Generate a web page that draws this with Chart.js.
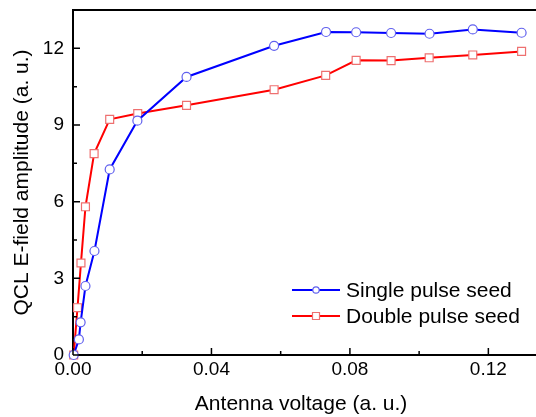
<!DOCTYPE html>
<html lang="en">
<script src="https://cdn.jsdelivr.net/npm/chart.js@4.4.1/dist/chart.umd.min.js"></script>
<head>
<meta charset="UTF-8" />
<title>QCL E-field amplitude</title>
<style>
	html, body { margin:0; padding:0; background:#FFFFFF; }
	#wrap { width:536px; height:417px; }
</style>
</head>
<body>
<div id="wrap"><canvas id="qcl_chart" width="536" height="417"></canvas></div>
<script>
	// data
	const singleX = [0.0002, 0.0017, 0.0022, 0.0036, 0.0062, 0.0106, 0.0186, 0.0328, 0.0581, 0.0731, 0.0818, 0.0919, 0.1030, 0.1155, 0.1296];
	const singleY = [0.0, 0.61, 1.28, 2.70, 4.07, 7.26, 9.17, 10.88, 12.10, 12.64, 12.63, 12.60, 12.57, 12.74, 12.61];
	const doubleX = [0.0002, 0.0013, 0.0023, 0.0036, 0.0061, 0.0106, 0.0187, 0.0328, 0.0581, 0.0730, 0.0818, 0.0919, 0.1029, 0.1155, 0.1296];
	const doubleY = [0.0, 1.85, 3.60, 5.80, 7.88, 9.22, 9.45, 9.77, 10.38, 10.94, 11.53, 11.52, 11.63, 11.74, 11.88];
	const xTicks = [0, 0.04, 0.08, 0.12];
	const xMinor = [0.02, 0.06, 0.10];
	const yTicks = [0, 3, 6, 9, 12];
	const yMinor = [1.5, 4.5, 7.5, 10.5];
	const seriesNames = ['Single pulse seed', 'Double pulse seed'];

	const FONT = 'Liberation Sans, Arial, sans-serif';

	function toPoints(xs, ys) {
		return xs.map((x, i) => ({x: x, y: ys[i]}));
	}

	// inward tick marks, frame lines running to the page edge, legend box
	const framePlugin = {
		id: 'frame',
		afterDatasetsDraw(chart) {
			const ctx = chart.ctx;
			const a = chart.chartArea;
			const xs = chart.scales.x, ys = chart.scales.y;
			ctx.save();
			ctx.strokeStyle = '#000000';
			ctx.lineWidth = 2;
			ctx.beginPath();
			ctx.moveTo(a.left - 1, a.top);
			ctx.lineTo(chart.width, a.top);
			ctx.moveTo(a.right - 1, a.bottom);
			ctx.lineTo(chart.width, a.bottom);
			ctx.stroke();
			ctx.lineWidth = 1.5;
			ctx.beginPath();
			xTicks.forEach(v => { const p = xs.getPixelForValue(v); ctx.moveTo(p, a.bottom); ctx.lineTo(p, a.bottom - 7); });
			xMinor.forEach(v => { const p = xs.getPixelForValue(v); ctx.moveTo(p, a.bottom); ctx.lineTo(p, a.bottom - 4); });
			yTicks.forEach(v => { const p = ys.getPixelForValue(v); ctx.moveTo(a.left, p); ctx.lineTo(a.left + 7, p); });
			yMinor.forEach(v => { const p = ys.getPixelForValue(v); ctx.moveTo(a.left, p); ctx.lineTo(a.left + 4, p); });
			ctx.stroke();

			// legend
			const rows = [290, 316];
			chart.data.datasets.forEach((ds, i) => {
				const y = rows[i];
				ctx.strokeStyle = ds.borderColor;
				ctx.lineWidth = 2;
				ctx.beginPath();
				ctx.moveTo(292, y);
				ctx.lineTo(340, y);
				ctx.stroke();
				ctx.fillStyle = '#FFFFFF';
				ctx.strokeStyle = ds.pointBorderColor;
				ctx.lineWidth = 1.2;
				ctx.beginPath();
				if (ds.pointStyle === 'circle') ctx.arc(316, y, 3.2, 0, Math.PI * 2);
				else ctx.rect(312.5, y - 3.5, 7, 7);
				ctx.fill();
				ctx.stroke();
				ctx.fillStyle = '#000000';
				ctx.font = '21px ' + FONT;
				ctx.textBaseline = 'middle';
				ctx.textAlign = 'left';
				ctx.fillText(seriesNames[i], 346, y + 1);
			});
			ctx.restore();
		}
	};

	let qChart = new Chart(document.getElementById('qcl_chart'), {
		type: 'scatter',
		data: {
			datasets: [{
				label: seriesNames[0],
				data: toPoints(singleX, singleY),
				showLine: true,
				borderColor: '#0000FF',
				borderWidth: 2,
				pointStyle: 'circle',
				pointRadius: 4.5,
				pointBorderColor: '#6060EE',
				pointBackgroundColor: '#FFFFFF',
				pointBorderWidth: 1.2,
				clip: false
			}, {
				label: seriesNames[1],
				data: toPoints(doubleX, doubleY),
				showLine: true,
				borderColor: '#FF0000',
				borderWidth: 2,
				pointStyle: 'rect',
				pointRadius: 5.6,
				pointBorderColor: '#EE7070',
				pointBackgroundColor: '#FFFFFF',
				pointBorderWidth: 1.2,
				clip: false
			}]
		},
		options: {
			responsive: false,
			animation: false,
			layout: {padding: {top: 10, right: 0, bottom: 0, left: 0}},
			scales: {
				x: {
					type: 'linear',
					min: 0, max: 0.1318,
					afterBuildTicks: s => { s.ticks = xTicks.map(v => ({value: v})); },
					afterFit: s => { s.height = 62; s.paddingLeft = 0; s.paddingRight = 0; },
					grid: {display: false, drawTicks: false},
					border: {display: true, color: '#000000', width: 2},
					ticks: {
						color: '#000000', padding: 3,
						font: {family: FONT, size: 19},
						callback: v => v.toFixed(2)
					},
					title: {
						display: true, text: 'Antenna voltage (a. u.)', color: '#000000',
						font: {family: FONT, size: 21}, padding: {top: 0, bottom: 0}
					}
				},
				y: {
					type: 'linear',
					min: 0, max: 13.5,
					afterBuildTicks: s => { s.ticks = yTicks.map(v => ({value: v})); },
					afterFit: s => { s.width = 73; s.paddingTop = 0; s.paddingBottom = 0; },
					grid: {display: false, drawTicks: false},
					border: {display: true, color: '#000000', width: 2},
					ticks: {
						color: '#000000', padding: 9,
						font: {family: FONT, size: 19}
					},
					title: {
						display: true, text: 'QCL E-field amplitude (a. u.)', color: '#000000',
						font: {family: FONT, size: 21}, padding: {top: 10, bottom: 0}
					}
				}
			},
			plugins: {legend: {display: false}, tooltip: {enabled: false}}
		},
		plugins: [framePlugin]
	});
</script>
</body>
</html>
